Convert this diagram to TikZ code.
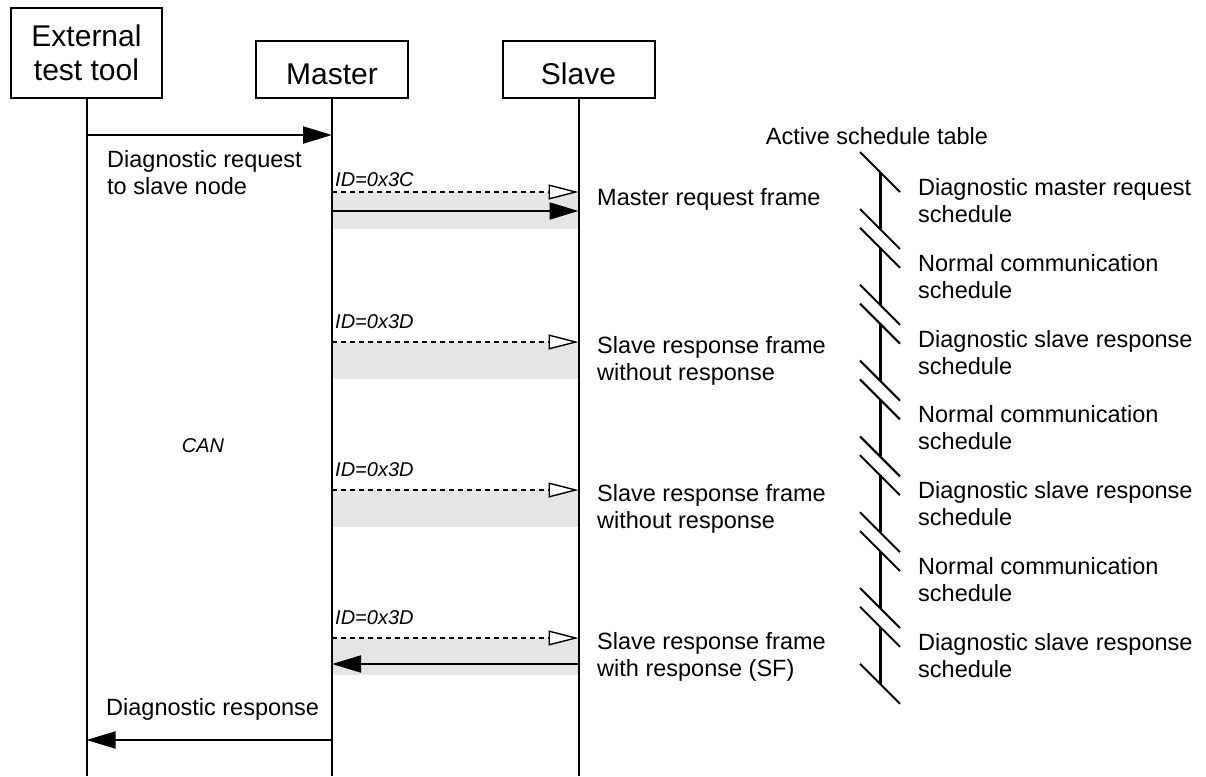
\documentclass[tikz,border=0pt]{standalone}
\usepackage{fontspec}
\setmainfont{Liberation Sans}
\usetikzlibrary{arrows.meta}
\begin{document}
\begin{tikzpicture}[x=1pt,y=-1pt,
  actor/.style={draw, line width=2pt, inner sep=0pt, font=\fontsize{30}{34.5}\selectfont, align=center},
  life/.style={line width=2pt},
  msg/.style={line width=2pt, -{Triangle[length=29pt,width=17pt]}},
  req/.style={line width=1.4pt, dash pattern=on 5pt off 4pt, -{Triangle[open, length=30pt, width=15pt, fill=white, line width=1.4pt]}},
  band/.style={fill=gray!20, draw=none},
  lbl/.style={font=\fontsize{23.5}{27}\selectfont, inner sep=0pt, align=left},
  idl/.style={font=\fontsize{20}{23}\selectfont\itshape, inner sep=0pt},
  sched/.style={line width=3pt},
  brk/.style={line width=2pt},
]
\useasboundingbox (0,0) rectangle (1206,776);
% actors
\node[actor, minimum width=151pt, minimum height=90pt] (ext) at (86.5,53) {External\\test tool};
\node[actor, minimum width=152pt, minimum height=57pt, text height=29pt, text depth=0pt] (mst) at (332,69.5) {Master};
\node[actor, minimum width=152pt, minimum height=57pt, text height=29pt, text depth=0pt] (slv) at (578.5,69.5) {Slave};
\coordinate (extEnd) at (86.5,776);
\coordinate (mstEnd) at (332,776);
\coordinate (slvEnd) at (578.5,776);
% gray bands
\foreach \d in {192,342,490,638}{
  \fill[band] (332,\d) rectangle (578.5,\d+37);
}
% lifelines
\draw[life] (ext.south) -- (extEnd);
\draw[life] (mst.south) -- (mstEnd);
\draw[life] (slv.south) -- (slvEnd);
% coordinates on lifelines
\coordinate (e1) at (86.5,135);
\coordinate (m1) at (332,135);
\coordinate (mr1) at (332,192);
\coordinate (sr1) at (578.5,192);
\coordinate (mr1b) at (332,211);
\coordinate (sr1b) at (578.5,211);
\coordinate (mr2) at (332,342);
\coordinate (sr2) at (578.5,342);
\coordinate (mr3) at (332,490);
\coordinate (sr3) at (578.5,490);
\coordinate (mr4) at (332,638);
\coordinate (sr4) at (578.5,638);
\coordinate (mr4b) at (332,664);
\coordinate (sr4b) at (578.5,664);
\coordinate (m5) at (332,740);
\coordinate (e5) at (86.5,740);
% messages
\draw[msg] (e1) -- (m1);
\node[lbl, anchor=north west] (dreq) at (107,150) {Diagnostic request\\to slave node};
\draw[req] (mr1) -- (sr1);
\draw[msg] (mr1b) -- (sr1b);
\node[idl, anchor=base west] (id1) at (335,186) {ID=0x3C};
\node[lbl, anchor=base west] (f1) at (597,205) {Master request frame};
\draw[req] (mr2) -- (sr2);
\node[idl, anchor=base west] (id2) at (335,328) {ID=0x3D};
\node[lbl, anchor=north west] (f2) at (597,336) {Slave response frame\\without response};
\draw[req] (mr3) -- (sr3);
\node[idl, anchor=base west] (id3) at (335,476) {ID=0x3D};
\node[lbl, anchor=north west] (f3) at (597,484) {Slave response frame\\without response};
\draw[req] (mr4) -- (sr4);
\draw[msg] (sr4b) -- (mr4b);
\node[idl, anchor=base west] (id4) at (335,624) {ID=0x3D};
\node[lbl, anchor=north west] (f4) at (597,632) {Slave response frame\\with response (SF)};
\node[lbl, anchor=base west] (dresp) at (106,715) {Diagnostic response};
\draw[msg] (m5) -- (e5);
\node[idl, anchor=base] (can) at (203,452) {CAN};
% schedule table
\node[lbl, anchor=base] (ast) at (877,144) {Active schedule table};
\foreach \i/\t in {0/{Diagnostic master request\\schedule},
                   1/{Normal communication\\schedule},
                   2/{Diagnostic slave response\\schedule},
                   3/{Normal communication\\schedule},
                   4/{Diagnostic slave response\\schedule},
                   5/{Normal communication\\schedule},
                   6/{Diagnostic slave response\\schedule}}{
  \pgfmathsetmacro{\s}{172+75.8*\i}
  \pgfmathsetmacro{\e}{\s+57}
  \draw[sched] (880,\s) -- (880,\e);
  \draw[brk] (860,\s-20) -- (900,\s+20);
  \draw[brk] (860,\e-20) -- (900,\e+20);
  \node[lbl, anchor=west] (sch\i) at (918,{(\s+\e)/2}) {\t};
}
\end{tikzpicture}
\end{document}
